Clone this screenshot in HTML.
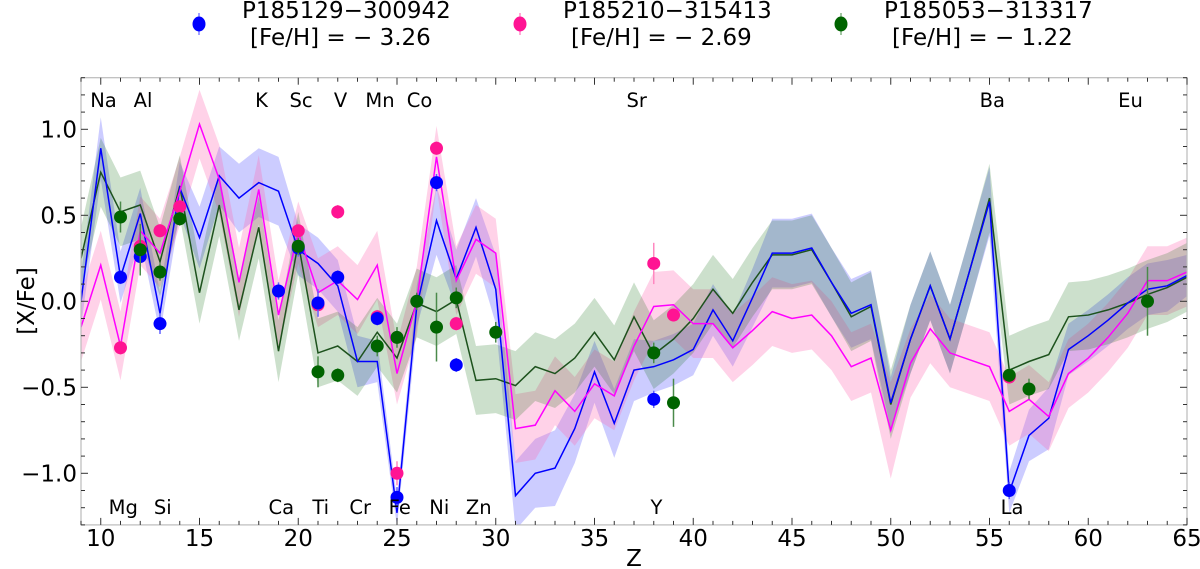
<!DOCTYPE html>
<html><head><meta charset="utf-8"><style>
html,body{margin:0;padding:0;background:#fff;}
svg{display:block;font-family:"DejaVu Sans","Liberation Sans",sans-serif;}
</style></head><body>
<svg id="chart" width="1200" height="569" viewBox="0 0 1200 569"></svg>
<script>
const zVals=[9,10,11,12,13,14,15,16,17,18,19,20,21,22,23,24,25,26,27,28,29,30,31,32,33,34,35,36,37,38,39,40,41,42,43,44,45,46,47,48,49,50,51,52,53,54,55,56,57,58,59,60,61,62,63,64,65];
const blueLine=[0.0,0.89,0.14,0.51,-0.07,0.66,0.37,0.73,0.60,0.69,0.64,0.30,0.22,0.09,-0.35,-0.35,-1.23,-0.03,0.47,0.13,0.43,0.07,-1.13,-1.0,-0.97,-0.74,-0.41,-0.71,-0.40,-0.38,-0.34,-0.28,-0.05,-0.23,0.02,0.28,0.28,0.31,0.11,-0.07,-0.02,-0.59,-0.22,0.09,-0.22,0.18,0.58,-1.11,-0.78,-0.68,-0.28,-0.20,-0.11,-0.01,0.07,0.09,0.15];
const blueBand=[0.15,0.18,0.15,0.15,0.12,0.15,0.18,0.17,0.2,0.2,0.2,0.15,0.15,0.15,0.15,0.12,0.08,0.12,0.2,0.17,0.17,0.2,0.2,0.2,0.22,0.2,0.18,0.2,0.18,0.15,0.15,0.15,0.15,0.15,0.17,0.2,0.2,0.2,0.2,0.2,0.2,0.15,0.2,0.2,0.2,0.2,0.2,0.12,0.15,0.18,0.15,0.15,0.15,0.15,0.15,0.15,0.12];
const pinkLine=[-0.15,0.21,-0.26,0.41,0.28,0.64,1.03,0.71,0.11,0.65,-0.08,0.40,0.05,0.12,0.01,0.21,-0.42,0.0,0.84,0.12,0.36,0.28,-0.74,-0.72,-0.52,-0.64,-0.48,-0.55,-0.26,-0.03,-0.02,-0.13,-0.13,-0.27,-0.17,-0.06,-0.10,-0.08,-0.20,-0.38,-0.33,-0.75,-0.36,-0.16,-0.30,-0.34,-0.38,-0.64,-0.57,-0.67,-0.42,-0.33,-0.21,-0.07,0.12,0.12,0.17];
const pinkBand=[0.2,0.2,0.2,0.2,0.2,0.2,0.2,0.2,0.2,0.2,0.2,0.18,0.2,0.2,0.2,0.2,0.18,0.2,0.18,0.2,0.2,0.2,0.2,0.2,0.2,0.2,0.2,0.2,0.2,0.2,0.2,0.2,0.2,0.2,0.2,0.2,0.2,0.2,0.2,0.2,0.2,0.28,0.2,0.2,0.2,0.2,0.2,0.2,0.2,0.2,0.2,0.2,0.2,0.2,0.2,0.2,0.2];
const greenLine=[0.25,0.75,0.52,0.56,0.23,0.67,0.05,0.56,-0.05,0.43,-0.29,0.34,-0.30,-0.26,-0.35,-0.18,-0.33,-0.01,-0.06,0.01,-0.46,-0.45,-0.49,-0.38,-0.42,-0.33,-0.18,-0.34,-0.09,-0.31,-0.22,-0.10,0.07,-0.07,0.11,0.27,0.27,0.30,0.11,-0.09,-0.03,-0.60,-0.22,0.09,-0.22,0.18,0.60,-0.40,-0.35,-0.31,-0.09,-0.08,-0.05,-0.01,0.04,0.08,0.14];
const greenBand=[0.18,0.2,0.2,0.2,0.2,0.18,0.18,0.18,0.18,0.18,0.18,0.18,0.2,0.2,0.2,0.2,0.2,0.2,0.2,0.2,0.2,0.2,0.2,0.2,0.2,0.2,0.2,0.2,0.2,0.2,0.2,0.2,0.2,0.2,0.2,0.2,0.2,0.2,0.2,0.2,0.2,0.2,0.2,0.2,0.2,0.2,0.2,0.2,0.2,0.2,0.2,0.2,0.2,0.2,0.2,0.2,0.2];
const blueZ=[11,12,13,19,20,21,22,24,25,27,28,38,56];
const blueVal=[0.14,0.26,-0.13,0.06,0.31,-0.01,0.14,-0.10,-1.14,0.69,-0.37,-0.57,-1.10];
const blueErr=[0.04,0.05,0.06,0.05,0.05,0.08,0.04,0.04,0.06,0.05,0.04,0.05,0.05];
const pinkZ=[11,12,13,14,20,21,22,24,25,27,28,38,39,56];
const pinkVal=[-0.27,0.32,0.41,0.55,0.41,-0.02,0.52,-0.09,-1.00,0.89,-0.13,0.22,-0.08,-0.44];
const pinkErr=[0.04,0.04,0.04,0.04,0.04,0.04,0.04,0.04,0.07,0.04,0.04,0.12,0.04,0.04];
const greenZ=[11,12,13,14,20,21,22,24,25,26,27,28,30,38,39,56,57,63];
const greenVal=[0.49,0.30,0.17,0.48,0.32,-0.41,-0.43,-0.26,-0.21,0.00,-0.15,0.02,-0.18,-0.30,-0.59,-0.43,-0.51,0.00];
const greenErr=[0.09,0.15,0.05,0.04,0.05,0.09,0.04,0.06,0.06,0.05,0.2,0.06,0.06,0.06,0.14,0.04,0.06,0.2];
const topElems=["Na","Al","K","Sc","V","Mn","Co","Sr","Ba","Eu"];
const topZ=[11,13,19,21,23,25,27,38,56,63];
const botElems=["Mg","Si","Ca","Ti","Cr","Fe","Ni","Zn","Y","La"];
const botZ=[12,14,20,22,24,26,28,30,39,57];
const xTicks=[10,15,20,25,30,35,40,45,50,55,60,65];
const yTicks=[-1.0,-0.5,0.0,0.5,1.0];
const yTickLabels=["\u22121.0","\u22120.5","0.0","0.5","1.0"];

const NS="http://www.w3.org/2000/svg";
const svg=document.getElementById('chart');
const L=81,R=1187,T=77.7,B=524.9;
const xmin=9,xmax=65,ymin=-1.3,ymax=1.3;
function X(z){return L+(z-xmin)/(xmax-xmin)*(R-L);}
function Y(v){return B-(v-ymin)/(ymax-ymin)*(B-T);}
function mk(tag,attrs,parent){const e=document.createElementNS(NS,tag);for(const k in attrs)e.setAttribute(k,attrs[k]);(parent||svg).appendChild(e);return e;}

const clip=mk('clipPath',{id:'pc'});mk('rect',{x:L,y:T,width:R-L,height:B-T},clip);
const plot=mk('g',{'clip-path':'url(#pc)'});



function band(line,w,fill,name){
  let up=zVals.map((z,i)=>X(z)+','+Y(line[i]+w[i]));
  let dn=zVals.map((z,i)=>X(z)+','+Y(line[i]-w[i])).reverse();
  const p=mk('polygon',{points:up.concat(dn).join(' '),fill:fill},plot);
  
  
}
function line(vals,color,name){
  const p=mk('polyline',{points:zVals.map((z,i)=>X(z)+','+Y(vals[i])).join(' '),fill:'none',stroke:color,'stroke-width':1.5},plot);
  
  
}
band(blueLine,blueBand,'rgba(0,0,255,0.2)','blue-model-band');
band(pinkLine,pinkBand,'rgba(255,105,180,0.3)','pink-model-band');
band(greenLine,greenBand,'rgba(0,100,0,0.2)','green-model-band');
line(greenLine,'#1d521d','green-model-line');
line(blueLine,'#0000ff','blue-model-line');
line(pinkLine,'#ff00ff','pink-model-line');

function points(zs,vs,es,color,ecolor,name){
  zs.forEach((z,i)=>{
    const g=mk('g',{},plot);
    
    
    mk('line',{x1:X(z),x2:X(z),y1:Y(vs[i]+es[i]),y2:Y(vs[i]-es[i]),stroke:ecolor,'stroke-width':1.5},g);
    mk('circle',{cx:X(z),cy:Y(vs[i]),r:6.5,fill:color},g);
  });
}
points(pinkZ,pinkVal,pinkErr,'#ff1493','#ff88c0','pink-star');
points(blueZ,blueVal,blueErr,'#0000ff','#6060ff','blue-star');
points(greenZ,greenVal,greenErr,'#006400','#4a8a4a','green-star');

// frame
const fr=mk('rect',{x:L,y:T,width:R-L,height:B-T,fill:'none',stroke:'#bbb','stroke-width':1.2});


// ticks
const tg=mk('g',{stroke:'#333','stroke-width':1});


for(let z=9;z<=65;z++){
  const maj=(z%5===0),len=maj?7:4;
  mk('line',{x1:X(z),x2:X(z),y1:B,y2:B-len},tg);
  mk('line',{x1:X(z),x2:X(z),y1:T,y2:T+len},tg);
}
for(let k=-13;k<=13;k++){
  const v=k/10,maj=(k%5===0),len=maj?7:4;
  mk('line',{x1:L,x2:L+len,y1:Y(v),y2:Y(v)},tg);
  mk('line',{x1:R,x2:R-len,y1:Y(v),y2:Y(v)},tg);
}
xTicks.forEach(z=>{
  const t=mk('text',{x:X(z),y:546,'font-size':23,'text-anchor':'middle',fill:'#000'});
  t.textContent=String(z);
  
  
});
yTicks.forEach((v,i)=>{
  const t=mk('text',{x:77,y:Y(v)+8,'font-size':23,'text-anchor':'end',fill:'#000'});
  t.textContent=yTickLabels[i];
  
  
});
topElems.forEach((el,i)=>{
  const t=mk('text',{x:X(topZ[i])-17,y:107,'font-size':19.5,'text-anchor':'middle',fill:'#000'});
  t.textContent=el;
  
  
});
botElems.forEach((el,i)=>{
  const t=mk('text',{x:X(botZ[i])-17,y:514,'font-size':19.5,'text-anchor':'middle',fill:'#000'});
  t.textContent=el;
  
  
});
const xl=mk('text',{x:634,y:566,'font-size':23,'text-anchor':'middle'});xl.textContent='Z';


const yl=mk('text',{x:0,y:0,'font-size':23,'text-anchor':'middle',transform:'translate(34,301) rotate(-90)'});yl.textContent='[X/Fe]';



// legend
const legNames=["P185129\u2212300942","P185210\u2212315413","P185053\u2212313317"];
const legFeH=["[Fe/H] = \u2212 3.26","[Fe/H] = \u2212 2.69","[Fe/H] = \u2212 1.22"];
const legColors=['#0000ff','#ff1493','#006400'];
const legX=[199,520,841];
legNames.forEach((n,i)=>{
  const g=mk('g',{});
  
  
  mk('line',{x1:legX[i],x2:legX[i],y1:13,y2:35,stroke:legColors[i],'stroke-width':1.2,opacity:0.6},g);
  mk('ellipse',{cx:legX[i],cy:24,rx:6.5,ry:7.5,fill:legColors[i]},g);
  const t1=mk('text',{x:legX[i]+43,y:18,'font-size':23},g);t1.textContent=n;
  const t2=mk('text',{x:legX[i]+51,y:45,'font-size':23},g);t2.textContent=legFeH[i];
});
</script>
</body></html>
